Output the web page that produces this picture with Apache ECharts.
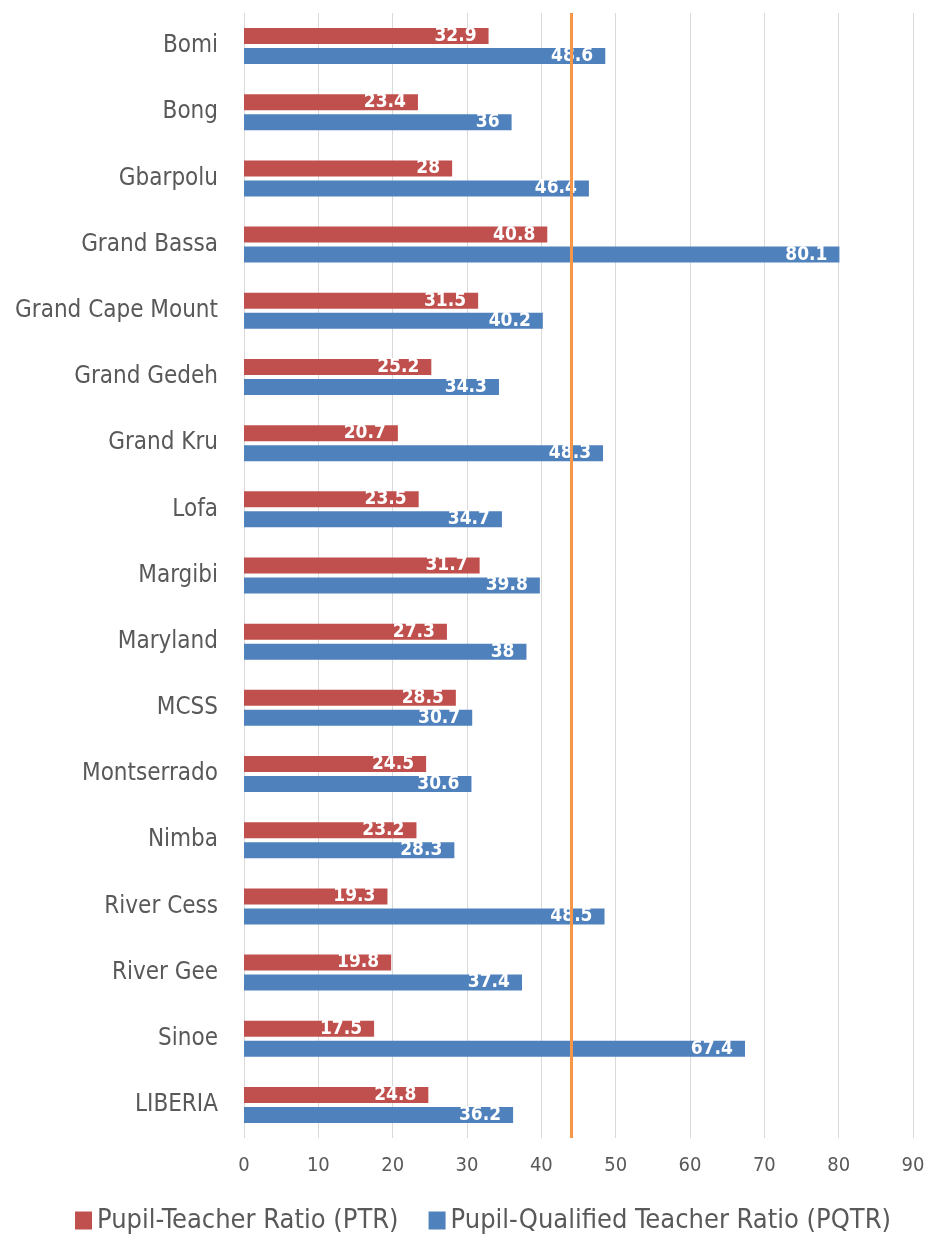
<!DOCTYPE html>
<html style="height: 100%">
<head>
    <meta charset="utf-8" />
    <title>PTR / PQTR by county</title>
    <script type="text/javascript" src="https://cdn.jsdelivr.net/npm/echarts@6.0.0/dist/echarts.min.js"></script>
</head>
<body style="height: 100%; margin: 0; background: #fff">
    <div id="container" style="width: 929px; height: 1241px"></div>
</body>
</html>
<script type="text/javascript">
    var counties = ['Bomi', 'Bong', 'Gbarpolu', 'Grand Bassa', 'Grand Cape Mount', 'Grand Gedeh', 'Grand Kru',
        'Lofa', 'Margibi', 'Maryland', 'MCSS', 'Montserrado', 'Nimba', 'River Cess', 'River Gee', 'Sinoe', 'LIBERIA'];
    var ptr = [32.9, 23.4, 28, 40.8, 31.5, 25.2, 20.7, 23.5, 31.7, 27.3, 28.5, 24.5, 23.2, 19.3, 19.8, 17.5, 24.8];
    var pqtr = [48.6, 36, 46.4, 80.1, 40.2, 34.3, 48.3, 34.7, 39.8, 38, 30.7, 30.6, 28.3, 48.5, 37.4, 67.4, 36.2];
    var benchmark = 44;

    var font = '"Liberation Sans Narrow", "DejaVu Sans Condensed", sans-serif';

    var dataLabel = {
        show: true,
        position: 'insideRight',
        distance: 12,
        color: '#fff',
        fontFamily: font,
        fontWeight: 'bold',
        fontSize: 19
    };

    var myChart = echarts.init(document.getElementById('container'));
    var option = {
        animation: false,
        textStyle: { fontFamily: font },
        grid: { left: 244, right: 16, top: 13, bottom: 103, outerBoundsMode: 'none', containLabel: false },
        legend: {
            bottom: 2,
            left: 70,
            icon: 'rect',
            itemWidth: 17,
            itemHeight: 18,
            itemGap: 30,
            textStyle: { fontFamily: font, fontSize: 27, color: '#595959' },
            data: ['Pupil-Teacher Ratio (PTR)', 'Pupil-Qualified Teacher Ratio (PQTR)']
        },
        xAxis: {
            type: 'value',
            min: 0,
            max: 90,
            interval: 10,
            axisLine: { show: false },
            axisTick: { show: false },
            splitLine: { lineStyle: { color: '#d9d9d9', width: 1 } },
            axisLabel: { fontFamily: font, fontSize: 20, color: '#595959', margin: 18 }
        },
        yAxis: {
            type: 'category',
            inverse: true,
            data: counties,
            axisLine: { show: false },
            axisTick: { show: false },
            axisLabel: { fontFamily: font, fontSize: 24, color: '#595959', margin: 26 }
        },
        series: [
            {
                name: 'Pupil-Teacher Ratio (PTR)',
                type: 'bar',
                data: ptr,
                barWidth: 16,
                barGap: '25%',
                itemStyle: { color: '#C0504D' },
                label: dataLabel,
                markLine: {
                    silent: true,
                    symbol: 'none',
                    label: { show: false },
                    lineStyle: { color: '#F79646', width: 3, type: 'solid' },
                    data: [{ xAxis: benchmark }]
                }
            },
            {
                name: 'Pupil-Qualified Teacher Ratio (PQTR)',
                type: 'bar',
                data: pqtr,
                barWidth: 16,
                barGap: '25%',
                itemStyle: { color: '#4F81BD' },
                label: dataLabel
            }
        ]
    };
    myChart.setOption(option);
</script>
